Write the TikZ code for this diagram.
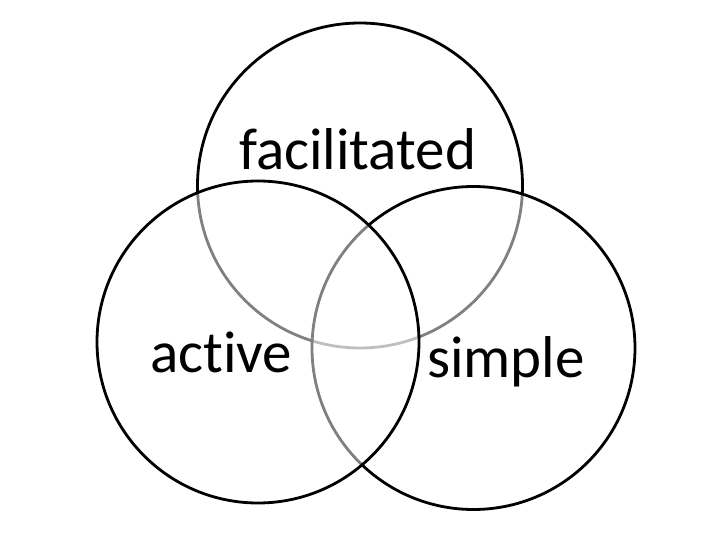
\documentclass[tikz,border=0pt]{standalone}
\usepackage{fontspec}
\setmainfont{Carlito}[RawFeature=-liga]
\begin{document}
\begin{tikzpicture}[x=1pt,y=-1pt,
  ring/.style={draw=black, line width=2.8pt, fill=white, fill opacity=0.5},
  lbl/.style={font=\fontsize{59}{66}\selectfont, inner sep=0pt, anchor=base west}]
\useasboundingbox (0,0) rectangle (720,540);
% drawing order: top, right, left (each with half-transparent white fill)
\path[ring] (360,185.5) circle[radius=162.5pt];
\path[ring] (473.5,348) circle[radius=161.5pt];
\path[ring] (258,342) circle[radius=161pt];
\node[lbl] (fac) at (239,170) {facilitated};
\node[lbl] (act) at (150,372) {active};
\node[lbl] (sim) at (427,377) {simple};
\end{tikzpicture}
\end{document}
